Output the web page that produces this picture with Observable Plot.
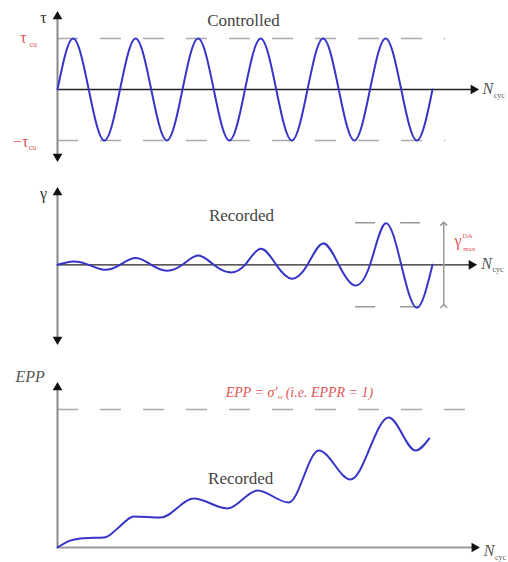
<!DOCTYPE html>
<html><head><meta charset="utf-8">
<script src="https://cdn.jsdelivr.net/npm/d3@7"></script>
<script src="https://cdn.jsdelivr.net/npm/@observablehq/plot@0.6"></script>
<style>body{margin:0;background:#fff}#chart svg{display:block}</style>
</head><body><div id="chart"></div>
<script>
// ---- data ----
const cycles = [0,0.25,0.5,0.75,1,1.25,1.5,1.75,2,2.25,2.5,2.75,3,3.25,3.5,3.75,4,4.25,4.5,4.75,5,5.25,5.5,5.75,6];
const controlledTau = [0,1,0,-1,0,1,0,-1,0,1,0,-1,0,1,0,-1,0,1,0,-1,0,1,0,-1,0];
const recordedGamma = [0,0.08,0,-0.12,0,0.16,0,-0.14,0,0.22,0,-0.18,0,0.38,0,-0.33,0,0.51,0,-0.49,0,0.99,0,-1.02,0];
const eppCycles = [0,0.2,0.37,0.77,0.96,1.22,1.65,2.18,2.72,3.2,3.7,4.18,4.69,5.3,5.73,5.95];
const eppRatio  = [0,0.05,0.065,0.075,0.138,0.225,0.217,0.355,0.283,0.413,0.326,0.703,0.493,0.942,0.703,0.79];
const tauLevels = [1,-1];
const gammaLevels = [1,-1];
const eppLevel = [1];

const tauData = cycles.map((n,i)=>({n, v: controlledTau[i]}));
const gammaData = cycles.map((n,i)=>({n, v: recordedGamma[i]}));
const eppData = eppCycles.map((n,i)=>({n, v: eppRatio[i]}));

const xDom = [-0.912, 7.216];
const BLUE = "#3535c8", RED = "#e05555", GREY = "#555", SERIF = "Liberation Serif";
const txt = (s, o) => Plot.text([s], Object.assign({text: d=>d, fontFamily: SERIF, fill: GREY, fontSize: 15}, o));
const heads = (arr) => Plot.dot(arr, {x:"n", y:"v", rotate:"r", symbol:"triangle", r:3.6, fill:"#111", stroke:"none"});
const base = (height, yDom, marks) => Plot.plot({
  width: 508, height, margin: 0,
  x: {domain: xDom, axis: null}, y: {domain: yDom, axis: null},
  style: {background: "#fff", overflow: "visible"},
  marks
});

// ---- panel 1: Controlled ----
const p1 = base(170, [-1.588, 1.745], [
  Plot.ruleY(tauLevels, {x1: 0, x2: 6.21, stroke: "#aaa", strokeWidth: 1.5, strokeDasharray: "21,22"}),
  Plot.ruleY([0], {x1: 0, x2: 6.656, stroke: "#222", strokeWidth: 1.3}),
  Plot.ruleX([0], {y1: -1.314, y2: 1.43, stroke: "#888", strokeWidth: 2}),
  heads([{n:0,v:1.43,r:0},{n:0,v:-1.314,r:180},{n:6.656,v:0,r:90}]),
  Plot.line(tauData, {x:"n", y:"v", curve:"natural", stroke: BLUE, strokeWidth: 2}),
  txt("τ", {x: -0.224, y: 1.412, fill: "#333", fontSize: 16}),
  txt("Controlled", {x: 2.976, y: 1.353, fontSize: 17, fill: "#444"}),
  txt("τ", {x: -0.544, y: 1.02, fill: RED, fontSize: 16}),
  txt("cu", {x: -0.45, y: 0.89, fill: RED, fontSize: 8, textAnchor: "start"}),
  txt("−τ", {x: -0.464, y: -1.02, fill: RED, textAnchor: "end", fontSize: 16}),
  txt("cu", {x: -0.46, y: -1.13, fill: RED, fontSize: 8, textAnchor: "start"}),
  txt("N", {x: 6.8, y: 0.02, fontStyle: "italic", fontSize: 16, textAnchor: "start"}),
  txt("cyc", {x: 6.98, y: -0.12, fontSize: 8, textAnchor: "start"})
]);

// ---- panel 2: Recorded gamma ----
const p2 = base(180, [-2.040, 2.245], [
  Plot.ruleY(gammaLevels, {x1: 4.77, x2: 6.18, stroke: "#999", strokeWidth: 1.5, strokeDasharray: "20,25"}),
  Plot.ruleY([0], {x1: 0, x2: 6.624, stroke: "#222", strokeWidth: 1.3}),
  Plot.ruleX([0], {y1: -1.778, y2: 1.721, stroke: "#888", strokeWidth: 2}),
  heads([{n:0,v:1.721,r:0},{n:0,v:-1.778,r:180},{n:6.624,v:0,r:90}]),
  Plot.link([0], {x1: 6.18, x2: 6.18, y1: -0.98, y2: 0.98, stroke: "#999", strokeWidth: 1.5, markerStart: "arrow", markerEnd: "arrow"}),
  Plot.line(gammaData, {x:"n", y:"v", curve:"natural", stroke: BLUE, strokeWidth: 2}),
  txt("γ", {x: -0.224, y: 1.70, fill: "#333", fontSize: 16}),
  txt("Recorded", {x: 2.944, y: 1.174, fontSize: 17, fill: "#444"}),
  txt("γ", {x: 6.41, y: 0.58, fill: RED, fontSize: 16}),
  txt("DA", {x: 6.48, y: 0.69, fill: RED, fontSize: 7, textAnchor: "start"}),
  txt("max", {x: 6.49, y: 0.38, fill: RED, fontSize: 7, textAnchor: "start"}),
  txt("N", {x: 6.78, y: 0.03, fontStyle: "italic", fontSize: 16, textAnchor: "start"}),
  txt("cyc", {x: 6.96, y: -0.12, fontSize: 8, textAnchor: "start"})
]);

// ---- panel 3: EPP ----
const p3 = base(212, [-0.1087, 1.4275], [
  Plot.ruleY(eppLevel, {x1: 0, x2: 6.6, stroke: "#aaa", strokeWidth: 1.5, strokeDasharray: "21,22"}),
  Plot.ruleY([0], {x1: 0, x2: 6.67, stroke: "#999", strokeWidth: 2}),
  Plot.ruleX([0], {y1: 0, y2: 1.159, stroke: "#888", strokeWidth: 2}),
  heads([{n:0,v:1.159,r:0},{n:6.67,v:0,r:90}]),
  Plot.line(eppData, {x:"n", y:"v", curve:"monotone-x", stroke: BLUE, strokeWidth: 2}),
  txt("EPP", {x: -0.672, y: 1.239, fontStyle: "italic", fontSize: 16, textAnchor: "start"}),
  txt("EPP = σ′", {x: 3.52, y: 1.123, fill: RED, fontStyle: "italic", fontSize: 14, textAnchor: "end"}),
  txt("vc", {x: 3.52, y: 1.095, fill: RED, fontStyle: "italic", fontSize: 7, textAnchor: "start"}),
  txt("(i.e. EPPR = 1)", {x: 3.65, y: 1.123, fill: RED, fontStyle: "italic", fontSize: 14, textAnchor: "start"}),
  txt("Recorded", {x: 2.93, y: 0.5, fontSize: 17, fill: "#444"}),
  txt("N", {x: 6.82, y: -0.022, fontStyle: "italic", fontSize: 16, textAnchor: "start"}),
  txt("cyc", {x: 7.0, y: -0.07, fontSize: 8, textAnchor: "start"})
]);

document.getElementById("chart").append(p1, p2, p3);
</script>
</body></html>
